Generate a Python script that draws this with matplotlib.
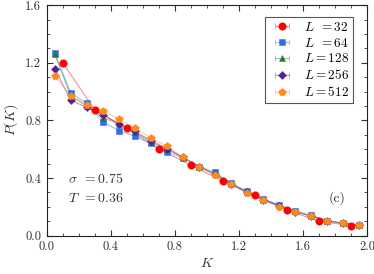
import matplotlib
matplotlib.use("Agg")
import matplotlib.pyplot as plt
from matplotlib.ticker import MultipleLocator, FormatStrFormatter
from matplotlib.colors import to_rgba

plt.rcParams['font.family'] = 'serif'
plt.rcParams['font.serif'] = ['cmr10', 'DejaVu Serif']
plt.rcParams['mathtext.fontset'] = 'cm'
plt.rcParams['axes.formatter.use_mathtext'] = True

# data
k_32 = [0.1, 0.3, 0.5, 0.7, 0.9, 1.1, 1.3, 1.5, 1.7, 1.9]
p_32 = [1.20, 0.873, 0.746, 0.60, 0.49, 0.38, 0.283, 0.178, 0.10, 0.07]

k_big = [0.05, 0.15, 0.25, 0.35, 0.45, 0.55, 0.65, 0.75, 0.85, 0.95,
         1.05, 1.15, 1.25, 1.35, 1.45, 1.55, 1.65, 1.75, 1.85, 1.95]
p_64 = [1.27, 0.99, 0.92, 0.79, 0.73, 0.69, 0.64, 0.58, 0.54, 0.48,
        0.44, 0.365, 0.31, 0.255, 0.215, 0.17, 0.14, 0.105, 0.088, 0.075]
p_128 = [1.26, 0.97, 0.90, 0.82, 0.775, 0.718, 0.65, 0.60, 0.545, 0.48,
         0.43, 0.36, 0.30, 0.25, 0.21, 0.168, 0.138, 0.103, 0.086, 0.073]
p_256 = [1.16, 0.94, 0.89, 0.84, 0.775, 0.725, 0.66, 0.605, 0.545, 0.48,
         0.425, 0.36, 0.30, 0.25, 0.205, 0.166, 0.137, 0.102, 0.086, 0.073]
p_512 = [1.11, 0.97, 0.91, 0.866, 0.81, 0.746, 0.68, 0.62, 0.546, 0.48,
         0.42, 0.357, 0.295, 0.248, 0.20, 0.165, 0.137, 0.10, 0.086, 0.074]

series = [
    (k_32, p_32, r'$L\enspace= 32$', '#ff0000', 'o', 5.4),
    (k_big, p_64, r'$L\enspace= 64$', '#2f6fe6', 's', 5.0),
    (k_big, p_128, r'$L = 128$', '#2b7a2b', '^', 4.8),
    (k_big, p_256, r'$L = 256$', '#5a1e88', 'D', 3.8),
    (k_big, p_512, r'$L = 512$', '#ff8a1c', 'p', 5.6),
]

fig = plt.figure(figsize=(3.74, 2.74), dpi=100)
ax = fig.add_axes([0.125, 0.14, 0.856, 0.841])

for k, p, lab, c, m, ms in series:
    light = to_rgba(c, 0.45)
    ax.plot(k, p, color=light, lw=0.8)
    ax.errorbar(k, p, xerr=0, fmt=m, ms=ms, color=c, mec=to_rgba(c, 0.6),
                mew=0.6, ecolor=light, elinewidth=0.8, capsize=2.2,
                label=lab)

leg = ax.legend(loc='upper right', bbox_to_anchor=(0.958, 0.95),
                fontsize=9.5, frameon=True, fancybox=False, framealpha=1,
                edgecolor='#555555', handlelength=2.0, handletextpad=0.7,
                borderpad=0.3, labelspacing=0.22, borderaxespad=0.0)
leg.get_frame().set_linewidth(0.8)

ax.set_xlim(0, 2.0)
ax.set_ylim(0, 1.6)
ax.xaxis.set_major_locator(MultipleLocator(0.4))
ax.xaxis.set_minor_locator(MultipleLocator(0.1))
ax.yaxis.set_major_locator(MultipleLocator(0.4))
ax.yaxis.set_minor_locator(MultipleLocator(0.1))
ax.xaxis.set_major_formatter(FormatStrFormatter('%.1f'))
ax.yaxis.set_major_formatter(FormatStrFormatter('%.1f'))
ax.tick_params(which='both', direction='in', top=True, right=True,
               labelsize=9, colors='#333333')
ax.tick_params(which='major', length=4, width=0.8, pad=4)
ax.tick_params(which='minor', length=2, width=0.6)
for s in ax.spines.values():
    s.set_linewidth(0.8)
    s.set_color('#222222')

ax.set_xlabel(r'$K$', fontsize=10, color='#333333', labelpad=3)
ax.set_ylabel(r'$P(K)$', fontsize=10, color='#333333', labelpad=4)

ax.text(0.13, 0.395, r'$\sigma\enspace = 0.75$', fontsize=10, color='#333333',
        va='center')
ax.text(0.13, 0.26, r'$T\enspace = 0.36$', fontsize=10, color='#333333',
        va='center')
ax.text(1.76, 0.26, '(c)', fontsize=10, color='#333333', va='center')

fig.savefig('out.png', dpi=100)
